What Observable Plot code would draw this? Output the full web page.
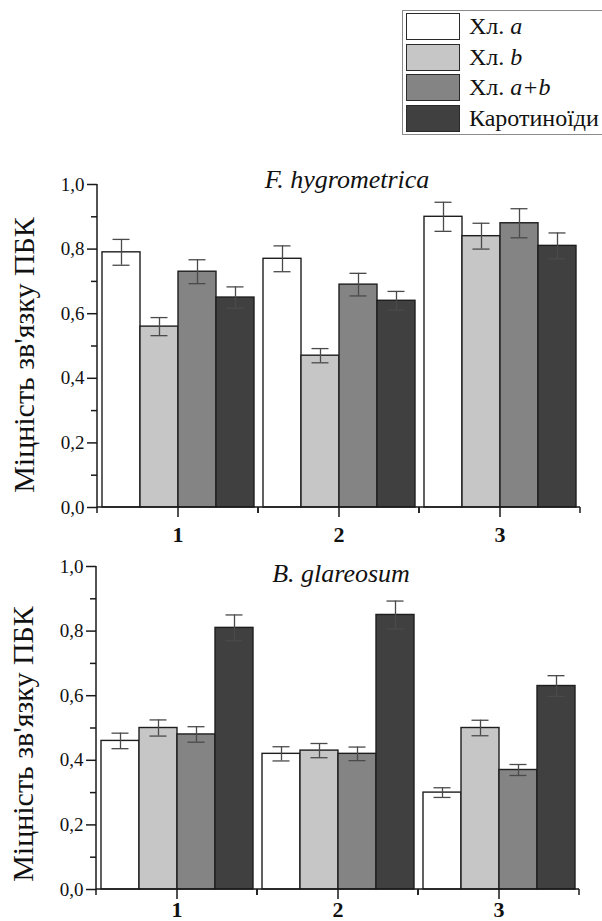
<!DOCTYPE html>
<html>
<head>
<meta charset="utf-8">
<script src="https://cdn.jsdelivr.net/npm/d3@7"></script>
<script src="https://cdn.jsdelivr.net/npm/@observablehq/plot@0.6"></script>
<style>
  body { margin: 0; background: #fff; }
  #root { position: relative; width: 602px; height: 921px; overflow: hidden; background: #fff;
          font-family: "Liberation Serif", "Times New Roman", "DejaVu Serif", serif; }
  .chart { position: absolute; left: 0; }
  #legend { position: absolute; left: 402px; top: 10px; width: 220px; height: 123px;
            border: 1.5px solid #8a8a8a; background: #fff; }
  .row { position: absolute; left: 3px; height: 27px; }
  .sw { position: absolute; left: 0; top: 0; width: 52px; height: 25px; border: 1.5px solid #2a2a2a; }
  .lab { position: absolute; left: 63px; top: -2px; font-size: 24px; line-height: 30px; white-space: nowrap; color: #111; }
</style>
</head>
<body>
<div id="root">
  <div id="legend"></div>
  <div id="top" class="chart" style="top:160px"></div>
  <div id="bottom" class="chart" style="top:545px"></div>
</div>
<script>
// ---- data ----
const groups = ["1", "2", "3"];
const series = ["Хл. a", "Хл. b", "Хл. a+b", "Каротиноїди"];
const seriesColors = ["#ffffff", "#c6c6c6", "#848484", "#404040"];

const hygroTitle = "F. hygrometrica";
const hygroValues = [[0.79, 0.56, 0.73, 0.65], [0.77, 0.47, 0.69, 0.64], [0.90, 0.84, 0.88, 0.81]];
const hygroErrors = [[0.040, 0.028, 0.037, 0.033], [0.040, 0.022, 0.035, 0.029], [0.045, 0.040, 0.045, 0.040]];

const glarTitle = "B. glareosum";
const glarValues = [[0.46, 0.50, 0.48, 0.81], [0.42, 0.43, 0.42, 0.85], [0.30, 0.50, 0.37, 0.63]];
const glarErrors = [[0.024, 0.025, 0.024, 0.040], [0.022, 0.022, 0.021, 0.043], [0.015, 0.024, 0.017, 0.032]];

const yLabel = "Міцність зв'язку ПБК";
const yTicks = [0, 0.2, 0.4, 0.6, 0.8, 1.0];
const yMinorTicks = [0.1, 0.3, 0.5, 0.7, 0.9];

const FONT = "Liberation Serif, Times New Roman, DejaVu Serif, serif";

// ---- legend ----
const legend = document.getElementById("legend");
series.forEach((s, i) => {
  const row = document.createElement("div");
  row.className = "row";
  row.style.top = (2 + i * 30.5) + "px";
  const sw = document.createElement("div");
  sw.className = "sw";
  sw.style.background = seriesColors[i];
  const lab = document.createElement("div");
  lab.className = "lab";
  if (s.startsWith("Хл. ")) {
    lab.innerHTML = "Хл. <i>" + s.slice(4) + "</i>";
  } else {
    lab.textContent = s;
  }
  row.appendChild(sw);
  row.appendChild(lab);
  legend.appendChild(row);
});

// ---- charts ----
// function mark, repeated for each group facet (in domain order): draws the axis line
// segment of the facet, the small ticks at the facet edges, and (first facet only) the y-axis line
function makeAxisLines() {
  let call = 0;
  return function (index, scales, values, dims) {
    const {y} = scales;
    const left = dims.marginLeft, right = dims.width - dims.marginRight;
    const y0 = y(0), y1 = y(1);
    const g = d3.create("svg:g").attr("stroke", "#1a1a1a").attr("stroke-width", 1.5).attr("fill", "none");
    g.append("line").attr("x1", left).attr("x2", right).attr("y1", y0).attr("y2", y0);
    if (call === 0) {
      g.append("line").attr("x1", left).attr("x2", left).attr("y1", y1).attr("y2", y0 + 0.75);
    }
    [left, right].forEach(e => g.append("line").attr("x1", e).attr("x2", e).attr("y1", y0).attr("y2", y0 + 6));
    call++;
    return g.node();
  };
}

function makeChart(values, errors, title, o) {
  const rows = [];
  groups.forEach((g, i) => series.forEach((s, j) =>
    rows.push({group: g, series: s, value: values[i][j], err: errors[i][j]})));
  return Plot.plot({
    width: 602, height: o.height,
    marginTop: o.marginTop, marginBottom: o.marginBottom, marginLeft: o.marginLeft, marginRight: o.marginRight,
    style: {fontFamily: FONT, background: "transparent", overflow: "visible", color: "#111"},
    fx: {domain: groups, padding: 0, label: null},
    x: {domain: series, paddingInner: 0, paddingOuter: 0.1, axis: null},
    y: {domain: [0, 1], axis: null},
    color: {domain: series, range: seriesColors},
    marks: [
      Plot.barY(rows, {fx: "group", x: "series", y: "value", fill: "series", stroke: "#1e1e1e", strokeWidth: 1.4}),
      Plot.ruleX(rows, {fx: "group", x: "series", y1: d => d.value - d.err, y2: d => d.value + d.err, stroke: "#4a4a4a", strokeWidth: 1.3}),
      Plot.tickY(rows, {fx: "group", x: "series", y: d => d.value + d.err, stroke: "#4a4a4a", strokeWidth: 1.3, insetLeft: 10.5, insetRight: 10.5}),
      Plot.tickY(rows, {fx: "group", x: "series", y: d => d.value - d.err, stroke: "#4a4a4a", strokeWidth: 1.3, insetLeft: 10.5, insetRight: 10.5}),
      makeAxisLines(),
      Plot.axisY({ticks: yTicks, tickSize: 10, tickPadding: 3, fontSize: 19, stroke: "#1a1a1a", strokeWidth: 1.5,
                  tickFormat: d => d.toFixed(1).replace(".", ","), label: null}),
      Plot.axisY({ticks: yMinorTicks, tickSize: 6, tickFormat: () => "", stroke: "#1a1a1a", strokeWidth: 1.5, label: null}),
      Plot.axisFx({anchor: "bottom", tickSize: 10, tickPadding: o.fxPadding, fontSize: 22, fontWeight: "bold",
                   stroke: "#1a1a1a", strokeWidth: 1.5, label: null}),
      Plot.text([title], {facet: "super", frameAnchor: "top", fontStyle: "italic", fontSize: 26, lineAnchor: "middle",
                          dx: o.titleDx, dy: o.titleDy, fill: "#111"}),
      Plot.text([yLabel], {facet: "super", frameAnchor: "left", rotate: -90, fontSize: 30, textAnchor: "middle", lineAnchor: "middle",
                           dx: -73, dy: o.labelDy, fill: "#111"})
    ]
  });
}

document.getElementById("top").appendChild(makeChart(hygroValues, hygroErrors, hygroTitle,
  {height: 385, marginTop: 24, marginBottom: 38, marginLeft: 96, marginRight: 21, fxPadding: 9, titleDx: 8, titleDy: -5, labelDy: 9}));
document.getElementById("bottom").appendChild(makeChart(glarValues, glarErrors, glarTitle,
  {height: 376, marginTop: 21, marginBottom: 32, marginLeft: 95, marginRight: 23, fxPadding: 2, titleDx: 3, titleDy: 7, labelDy: 16}));
</script>
</body>
</html>
